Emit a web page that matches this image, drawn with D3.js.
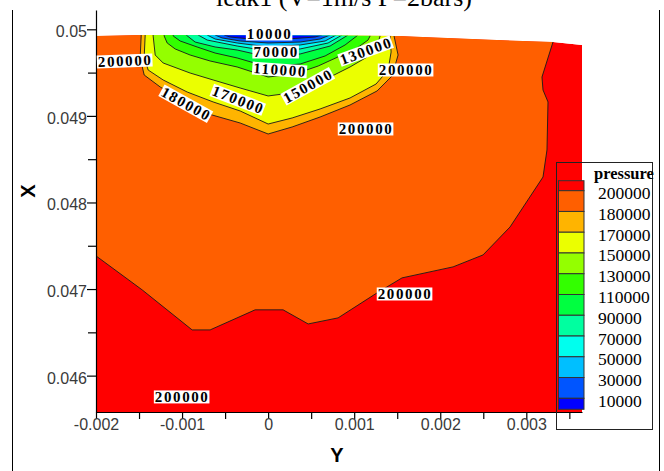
<!DOCTYPE html>
<html>
<head>
<meta charset="utf-8">
<script src="https://cdn.jsdelivr.net/npm/d3@7"></script>
<style>
  html, body { margin: 0; padding: 0; background: #fff; }
  svg { display: block; }
</style>
</head>
<body>
<svg id="chart" width="664" height="471"></svg>
<script>
// Pressure contour levels (Pa), lowest to highest
const levels = [10000, 30000, 50000, 70000, 90000, 110000, 130000, 150000, 170000, 180000, 200000];
// Fill colour of each band, from below 10000 up to above 200000
const bandColors = ["#0000ff", "#0055ff", "#00bfff", "#00ffee", "#00ffa0", "#00ff40",
                    "#33ff00", "#94ff00", "#ebff00", "#ffb400", "#ff5f00", "#ff0000"];

// Axis extents: Y (horizontal) and X (vertical), metres
const yExtent = [-0.002, 0.003647];
const xExtent = [0.04558, 0.050223];
const yTicks = [-0.002, -0.001, 0, 0.001, 0.002, 0.003];
const yMinorTicks = [-0.0015, -0.0005, 0.0005, 0.0015, 0.0025, 0.0035];
const xTicks = [0.046, 0.047, 0.048, 0.049, 0.05];
const xMinorTicks = [0.0465, 0.0475, 0.0485, 0.0495];

// Outline of the computational domain [Y, X]
const meshOutline = [[-0.002, 0.049923], [-0.00149, 0.049934], [0.00153, 0.049923], [0.0018, 0.049911],
  [0.00266, 0.049876], [0.00331, 0.049853], [0.003647, 0.049819], [0.003647, 0.04558], [-0.002, 0.04558]];

// Iso-lines [Y, X], each running from the left wall / top edge to the top edge
const line200000 = [[-0.002, 0.047383], [-0.001463, 0.04699], [-0.000883, 0.046528], [-0.000674, 0.046528],
  [-0.000151, 0.04676], [0.000174, 0.04676], [0.000465, 0.046597], [0.000813, 0.046667], [0.001266, 0.046956],
  [0.001556, 0.047129], [0.002149, 0.047256], [0.002497, 0.047394], [0.002811, 0.047717], [0.003194, 0.048294],
  [0.00324, 0.048606], [0.003252, 0.049161], [0.003194, 0.049299], [0.003182, 0.049449], [0.00331, 0.049853],
  [0.003345, 0.05]];
const line180000 = [[-0.001475, 0.05], [-0.001475, 0.049923], [-0.001487, 0.049669], [-0.00144, 0.049472],
  [-0.001254, 0.049334], [-0.000941, 0.049149], [-0.00065, 0.04901], [-0.000325, 0.048918], [0, 0.048791],
  [0.000279, 0.048872], [0.000604, 0.048987], [0.000952, 0.049126], [0.001266, 0.049288], [0.00144, 0.049461],
  [0.00151, 0.049703], [0.001463, 0.049923], [0.001463, 0.05]];
const line170000 = [[-0.001429, 0.05], [-0.001429, 0.049923], [-0.00144, 0.04968], [-0.001394, 0.04953],
  [-0.00122, 0.049415], [-0.000941, 0.049276], [-0.000639, 0.049161], [-0.000325, 0.049057], [0, 0.048906],
  [0.000279, 0.048976], [0.000604, 0.04908], [0.000952, 0.049207], [0.001254, 0.049368], [0.001394, 0.04953],
  [0.001429, 0.049738], [0.001417, 0.049923], [0.001417, 0.05]];
const line150000 = [[-0.001336, 0.05], [-0.001336, 0.049923], [-0.001312, 0.049703], [-0.00122, 0.049611],
  [-0.000906, 0.049495], [-0.000639, 0.049415], [-0.000325, 0.049322], [0, 0.04923], [0.000256, 0.049264],
  [0.000488, 0.049345], [0.00072, 0.049449], [0.000952, 0.049565], [0.00115, 0.04968], [0.001266, 0.049807],
  [0.001301, 0.049923], [0.001301, 0.05]];
const line130000 = [[-0.001208, 0.05], [-0.001208, 0.049923], [-0.001173, 0.049842], [-0.00108, 0.049773],
  [-0.000906, 0.049703], [-0.000674, 0.049634], [-0.00036, 0.049565], [0, 0.049449], [0.000314, 0.049484],
  [0.000581, 0.049576], [0.000836, 0.049692], [0.001034, 0.049784], [0.001161, 0.049876], [0.001185, 0.049923],
  [0.001185, 0.05]];
const line110000 = [[-0.001103, 0.05], [-0.001103, 0.049923], [-0.001022, 0.049865], [-0.000825, 0.049796],
  [-0.000616, 0.049726], [-0.00036, 0.049669], [0, 0.049565], [0.000372, 0.049599], [0.000662, 0.049692],
  [0.000894, 0.049819], [0.001045, 0.049934], [0.001045, 0.05]];
const line90000 = [[-0.000952, 0.05], [-0.000952, 0.049934], [-0.000848, 0.049853], [-0.000616, 0.049796],
  [-0.00036, 0.049761], [0, 0.04968], [0.000372, 0.049715], [0.00072, 0.049807], [0.000929, 0.049934],
  [0.000929, 0.05]];
const line70000 = [[-0.000813, 0.05], [-0.000813, 0.049934], [-0.000708, 0.049876], [-0.00036, 0.049807],
  [0, 0.049749], [0.000372, 0.049773], [0.000697, 0.049842], [0.000859, 0.049934], [0.000859, 0.05]];
const line50000 = [[-0.000708, 0.05], [-0.000708, 0.049934], [-0.000616, 0.049888], [-0.00036, 0.049842],
  [0, 0.049796], [0.000372, 0.049819], [0.000662, 0.049865], [0.00079, 0.049934], [0.00079, 0.05]];
const line30000 = [[-0.000616, 0.05], [-0.000616, 0.049934], [-0.000534, 0.0499], [-0.000325, 0.049865],
  [0, 0.049842], [0.000372, 0.049853], [0.000604, 0.049888], [0.00072, 0.049934], [0.00072, 0.05]];
const line10000 = [[-0.000511, 0.05], [-0.000511, 0.049934], [-0.000441, 0.049911], [-0.000267, 0.049894],
  [0, 0.049888], [0.000314, 0.049894], [0.000546, 0.049911], [0.000627, 0.049934], [0.000627, 0.05]];

// Contour labels: level, position [Y, X], text angle (deg)
const contourLabels = [
  { level: 10000,  at: [0.0000174, 0.049946], angle: 0 },
  { level: 70000,  at: [0.000093, 0.049738], angle: 0 },
  { level: 110000, at: [0.000139, 0.04953], angle: 4 },
  { level: 130000, at: [0.001138, 0.049749], angle: -20 },
  { level: 200000, at: [0.001603, 0.04953], angle: 0 },
  { level: 150000, at: [0.000465, 0.049345], angle: -29 },
  { level: 170000, at: [-0.000348, 0.049184], angle: 21 },
  { level: 180000, at: [-0.000952, 0.049137], angle: 29 },
  { level: 200000, at: [-0.001661, 0.049634], angle: -2 },
  { level: 200000, at: [0.001138, 0.048849], angle: 0 },
  { level: 200000, at: [0.001591, 0.046943], angle: 0 },
  { level: 200000, at: [-0.000999, 0.045754], angle: 0 }
];

const titleText = "leak1 (V=1m/s P=2bars)";
const legendTitle = "pressure";

// ---------------------------------------------------------------
const svg = d3.select("#chart");
const sx = d3.scaleLinear().domain(yExtent).range([96, 582]);
const sy = d3.scaleLinear().domain(xExtent).range([412, 10]);
const path = d3.line().x(d => sx(d[0])).y(d => sy(d[1]));

const isoLines = [line10000, line30000, line50000, line70000, line90000, line110000,
                  line130000, line150000, line170000, line180000, line200000];
const xTop = 0.0506;

// outer frame
svg.append("line").attr("x1", 12.5).attr("x2", 12.5).attr("y1", 10).attr("y2", 471)
  .attr("stroke", "#000").attr("stroke-width", 1);
svg.append("line").attr("x1", 659.5).attr("x2", 659.5).attr("y1", 10).attr("y2", 471)
  .attr("stroke", "#000").attr("stroke-width", 1);

// title
svg.append("text").attr("x", 344).attr("y", 6).attr("text-anchor", "middle")
  .attr("font-family", "'Liberation Serif', 'Times New Roman', serif").attr("font-size", 26)
  .text(titleText);

// clip to the domain
svg.append("clipPath").attr("id", "mesh").append("path").attr("d", path(meshOutline) + "Z");
const field = svg.append("g").attr("clip-path", "url(#mesh)");

// highest band fills the whole domain
field.append("path").attr("d", path(meshOutline) + "Z").attr("fill", bandColors[bandColors.length - 1]);

// each region below a level, painted from the highest level down
for (let i = levels.length - 1; i >= 0; i--) {
  const pts = isoLines[i];
  const first = pts[0], last = pts[pts.length - 1];
  const poly = pts.concat([[last[0] + 0.0001, xTop], [Math.min(first[0], yExtent[0]) - 0.0001, xTop],
                            [Math.min(first[0], yExtent[0]) - 0.0001, first[1]]]);
  field.append("path").attr("d", path(poly) + "Z").attr("fill", bandColors[i]);
}
// iso-lines
isoLines.forEach(pts => {
  field.append("path").attr("d", path(pts)).attr("fill", "none")
    .attr("stroke", "#1a1a1a").attr("stroke-width", 0.9).attr("stroke-linejoin", "round");
});

// axes
const axisFont = "'Liberation Sans', Arial, sans-serif";
const gx = svg.append("g").attr("transform", "translate(0,412)")
  .call(d3.axisBottom(sx).tickValues(yTicks).tickSize(7).tickSizeOuter(0).tickFormat(d => String(d)));
svg.append("g").attr("transform", "translate(0,412)")
  .call(d3.axisBottom(sx).tickValues(yMinorTicks).tickSize(7).tickSizeOuter(0).tickFormat(""))
  .select(".domain").remove();
gx.selectAll("text").attr("y", 18).attr("dy", 0);

const gy = svg.append("g").attr("transform", "translate(96,0)")
  .call(d3.axisLeft(sy).tickValues(xTicks).tickSize(9).tickSizeOuter(0).tickFormat(d => String(d)));
svg.append("g").attr("transform", "translate(96,0)")
  .call(d3.axisLeft(sy).tickValues(xMinorTicks).tickSize(8).tickSizeOuter(0).tickFormat(""))
  .select(".domain").remove();
gy.selectAll("text").attr("x", -9).attr("dy", "0.46em");

svg.selectAll(".tick text").attr("font-family", axisFont).attr("font-size", 16).attr("fill", "#3a3a3a");
svg.selectAll(".domain, .tick line").attr("stroke", "#000").attr("stroke-width", 1.2);

// axis titles
svg.append("text").attr("transform", "translate(35,191) rotate(-90)").attr("text-anchor", "middle")
  .attr("font-family", axisFont).attr("font-weight", "bold").attr("font-size", 20).text("X");
svg.append("text").attr("x", 337).attr("y", 462).attr("text-anchor", "middle")
  .attr("font-family", axisFont).attr("font-weight", "bold").attr("font-size", 20).text("Y");

// contour labels
const labelG = svg.append("g");
contourLabels.forEach(l => {
  const g = labelG.append("g")
    .attr("transform", `translate(${sx(l.at[0])},${sy(l.at[1])}) rotate(${l.angle})`);
  const rect = g.append("rect").attr("fill", "#fff");
  const t = g.append("text").attr("text-anchor", "middle").attr("y", 5)
    .attr("font-family", "'Liberation Serif', 'Times New Roman', serif")
    .attr("font-weight", "bold").attr("font-size", 15).attr("letter-spacing", 1.6)
    .attr("fill", "#000").text(String(l.level));
  const w = t.node().getComputedTextLength();
  rect.attr("x", -w / 2 - 1).attr("y", -6.5).attr("width", w + 1).attr("height", 13);
});

// legend
const legendLevels = levels.slice().reverse();
const legendColors = bandColors.slice().reverse();
const ly = d3.scaleLinear().domain([0, legendLevels.length - 1]).range([190.7, 398.3]);
const legend = svg.append("g");
legend.append("rect").attr("x", 556.5).attr("y", 162.5).attr("width", 96).attr("height", 267)
  .attr("fill", "none").attr("stroke", "#222").attr("stroke-width", 1);
legend.append("text").attr("x", 594).attr("y", 178.5)
  .attr("font-family", "'Liberation Serif', 'Times New Roman', serif").attr("font-weight", "bold")
  .attr("font-size", 16.5).text(legendTitle);
legendColors.forEach((c, i) => {
  const top = i === 0 ? ly(0) - 10 : ly(i - 1);
  const bot = i === legendColors.length - 1 ? ly(legendLevels.length - 1) + 11 : ly(i);
  legend.append("rect").attr("x", 558.5).attr("y", top).attr("width", 25.5).attr("height", bot - top)
    .attr("fill", c).attr("stroke", "#333").attr("stroke-width", 1);
});
legendLevels.forEach((v, i) => {
  legend.append("text").attr("x", 598).attr("y", ly(i) + 8.5)
    .attr("font-family", "'Liberation Serif', 'Times New Roman', serif").attr("font-size", 17.5)
    .text(String(v));
});
</script>
</body>
</html>
